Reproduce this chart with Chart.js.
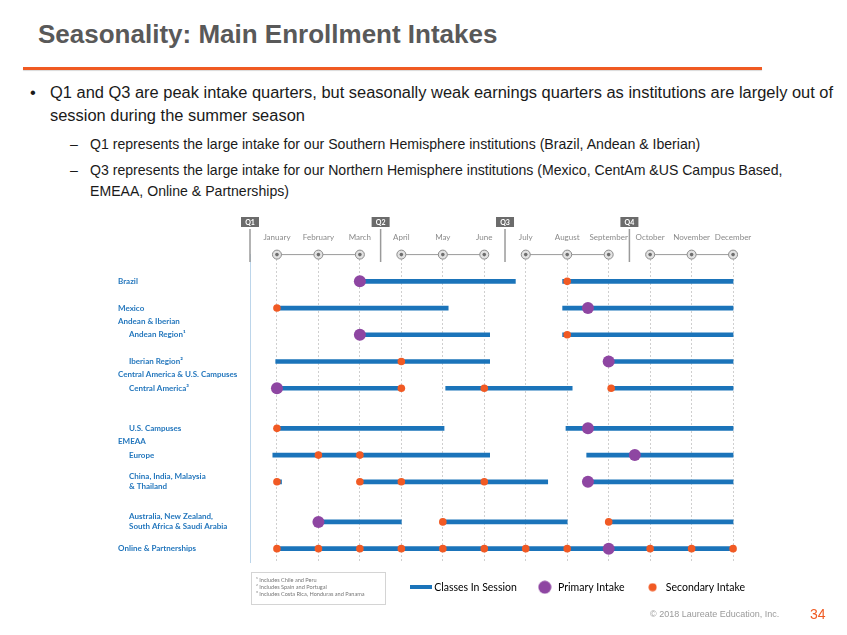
<!DOCTYPE html>
<html lang="en">
<head>
<meta charset="UTF-8">
<title>Seasonality: Main Enrollment Intakes</title>
<script src="https://cdn.jsdelivr.net/npm/chart.js@4"></script>
<style>
  body { margin: 0; width: 847px; height: 635px; background: #fff; position: relative; overflow: hidden; font-family: "Liberation Sans", Arial, sans-serif; }
  .title { position: absolute; left: 38px; top: 19px; font-size: 26px; font-weight: bold; color: #595959; white-space: nowrap; }
  .rule { position: absolute; left: 23px; top: 67px; width: 739px; height: 3px; background: #f05a22; box-shadow: 0 1px 1px rgba(0,0,0,0.15); }
  .b1 { position: absolute; left: 30px; top: 81px; font-size: 16.45px; line-height: 23px; color: #1a1a1a; }
  .b1 .dot { position: absolute; left: 0; top: 0; }
  .b1 .txt { position: absolute; left: 20px; top: 0; white-space: nowrap; }
  .b2 { position: absolute; left: 70px; font-size: 14.1px; line-height: 21px; color: #1a1a1a; }
  .b2 .dash { position: absolute; left: 0; top: 0; }
  .b2 .txt { position: absolute; left: 20px; top: 0; white-space: nowrap; }
  #chart { position: absolute; left: 0; top: 200px; }
  .notes { position: absolute; left: 251px; top: 572px; width: 135px; height: 33px; border: 1px solid #d4d4d4; font-family: Lato, sans-serif; font-size: 5.6px; line-height: 7px; color: #777; padding: 3px 0 0 4px; box-sizing: border-box; }
  .copy { position: absolute; left: 650px; top: 609px; font-size: 9px; color: #9a9a9a; }
  .page { position: absolute; left: 810px; top: 606px; font-size: 14px; color: #f05a22; }
</style>
</head>
<body>
<div class="title">Seasonality: Main Enrollment Intakes</div>
<div class="rule"></div>
<div class="b1"><span class="dot">•</span><span class="txt">Q1 and Q3 are peak intake quarters, but seasonally weak earnings quarters as institutions are largely out of<br>session during the summer season</span></div>
<div class="b2" style="top:134px"><span class="dash">–</span><span class="txt">Q1 represents the large intake for our Southern Hemisphere institutions (Brazil, Andean &amp; Iberian)</span></div>
<div class="b2" style="top:160px"><span class="dash">–</span><span class="txt">Q3 represents the large intake for our Northern Hemisphere institutions (Mexico, CentAm &amp;US Campus Based,<br>EMEAA, Online &amp; Partnerships)</span></div>

<canvas id="chart" width="847" height="435"></canvas>

<div class="notes">¹ Includes Chile and Peru<br>² Includes Spain and Portugal<br>³ Includes Costa Rica, Honduras and Panama</div>
<div class="copy">© 2018 Laureate Education, Inc.</div>
<div class="page">34</div>

<script>
// months on the x axis (0 = January ... 11 = December)
const months = ['January', 'February', 'March', 'April', 'May', 'June',
                'July', 'August', 'September', 'October', 'November', 'December'];
const quarters = ['Q1', 'Q2', 'Q3', 'Q4'];

// rows of the timeline; '' are spacer rows, ' ' is the month strip on top
const yCategories = [
  ' ', '',
  'Brazil', '',
  'Mexico',
  'Andean & Iberian',
  'Andean Region¹', '',
  'Iberian Region²',
  'Central America & U.S. Campuses',
  'Central America³', '', '',
  'U.S. Campuses',
  'EMEAA',
  'Europe', '',
  'China, India, Malaysia & Thailand', '', '',
  'Australia, New Zealand, South Africa & Saudi Arabia', '',
  'Online & Partnerships', ''
];
const indented = ['Andean Region¹', 'Iberian Region²', 'Central America³', 'U.S. Campuses',
                  'Europe', 'China, India, Malaysia & Thailand',
                  'Australia, New Zealand, South Africa & Saudi Arabia'];
const wrapped = {
  'China, India, Malaysia & Thailand': ['China, India, Malaysia', '& Thailand'],
  'Australia, New Zealand, South Africa & Saudi Arabia': ['Australia, New Zealand,', 'South Africa & Saudi Arabia']
};

// [row, start month, end month]
const classesInSession = [
  ['Brazil', 2, 5.75], ['Brazil', 6.89, 11],
  ['Mexico', 0, 4.13], ['Mexico', 6.89, 11],
  ['Andean Region¹', 2, 5.13], ['Andean Region¹', 6.89, 11],
  ['Iberian Region²', -0.03, 5.13], ['Iberian Region²', 8, 11],
  ['Central America³', 0, 3], ['Central America³', 4.07, 7.12], ['Central America³', 8.06, 11],
  ['U.S. Campuses', 0, 4.03], ['U.S. Campuses', 6.97, 11],
  ['Europe', -0.1, 5.13], ['Europe', 7.47, 11],
  ['China, India, Malaysia & Thailand', 0, 0.11], ['China, India, Malaysia & Thailand', 2, 6.53],
  ['China, India, Malaysia & Thailand', 7.5, 11],
  ['Australia, New Zealand, South Africa & Saudi Arabia', 1, 3],
  ['Australia, New Zealand, South Africa & Saudi Arabia', 4, 7],
  ['Australia, New Zealand, South Africa & Saudi Arabia', 8, 11],
  ['Online & Partnerships', 0, 11]
];

// [row, month]
const primaryIntake = [
  ['Brazil', 2], ['Mexico', 7.5], ['Andean Region¹', 2], ['Iberian Region²', 8],
  ['Central America³', 0], ['U.S. Campuses', 7.5], ['Europe', 8.63],
  ['China, India, Malaysia & Thailand', 7.5],
  ['Australia, New Zealand, South Africa & Saudi Arabia', 1],
  ['Online & Partnerships', 8]
];
const secondaryIntake = [
  ['Brazil', 7], ['Mexico', 0], ['Andean Region¹', 7], ['Iberian Region²', 3],
  ['Central America³', 3], ['Central America³', 5], ['Central America³', 8.06],
  ['U.S. Campuses', 0], ['Europe', 1], ['Europe', 2],
  ['China, India, Malaysia & Thailand', 0], ['China, India, Malaysia & Thailand', 2],
  ['China, India, Malaysia & Thailand', 3], ['China, India, Malaysia & Thailand', 5],
  ['Australia, New Zealand, South Africa & Saudi Arabia', 4],
  ['Australia, New Zealand, South Africa & Saudi Arabia', 8],
  ['Online & Partnerships', 0], ['Online & Partnerships', 1], ['Online & Partnerships', 2],
  ['Online & Partnerships', 3], ['Online & Partnerships', 4], ['Online & Partnerships', 5],
  ['Online & Partnerships', 6], ['Online & Partnerships', 7], ['Online & Partnerships', 9],
  ['Online & Partnerships', 10], ['Online & Partnerships', 11]
];

const BLUE = '#1b74ba';
const PURPLE = '#8e46a2';
const ORANGE = '#f15a24';
const LABEL_BLUE = '#2477bd';

// month strip: months joined within each quarter
const monthStrip = [];
months.forEach((m, i) => {
  monthStrip.push({ x: i, y: ' ' });
  if (i % 3 === 2 && i < 11) monthStrip.push({ x: i + 0.5, y: null });
});

function icon(w, h, draw) {
  const c = document.createElement('canvas');
  c.width = w; c.height = h;
  draw(c.getContext('2d'));
  return c;
}
const lineIcon = icon(22, 4, g => { g.fillStyle = BLUE; g.fillRect(0, 0, 22, 4); });
const purpleIcon = icon(14, 14, g => { g.fillStyle = PURPLE; g.beginPath(); g.arc(7, 7, 6.5, 0, Math.PI * 2); g.fill(); });
const orangeIcon = icon(9, 9, g => { g.fillStyle = ORANGE; g.beginPath(); g.arc(4.5, 4.5, 4, 0, Math.PI * 2); g.fill(); });

// quarter tags and separators above the plot
const quarterPlugin = {
  id: 'quarters',
  afterDraw(chart) {
    const { ctx, chartArea, scales: { x } } = chart;
    ctx.save();
    quarters.forEach((q, i) => {
      const px = i === 0 ? chartArea.left : x.getPixelForValue(i * 3 - 0.5);
      ctx.strokeStyle = '#9a9a9a';
      ctx.lineWidth = 1.5;
      ctx.beginPath();
      ctx.moveTo(px, 29);
      ctx.lineTo(px, 62);
      ctx.stroke();
      ctx.fillStyle = '#6b6b6b';
      ctx.fillRect(px - 9, 17, 18, 10);
      ctx.fillStyle = '#fff';
      ctx.font = 'bold 7px Lato';
      ctx.textAlign = 'center';
      ctx.textBaseline = 'middle';
      ctx.fillText(q, px, 22.5);
    });
    ctx.restore();
  }
};

new Chart(document.getElementById('chart'), {
  type: 'bar',
  data: {
    labels: yCategories,
    datasets: [
      {
        type: 'scatter',
        label: 'Primary Intake',
        data: primaryIntake.map(([r, m]) => ({ x: m, y: r })),
        backgroundColor: PURPLE,
        pointRadius: 6,
        pointBorderWidth: 0,
        order: 0
      },
      {
        type: 'scatter',
        label: 'Secondary Intake',
        data: secondaryIntake.map(([r, m]) => ({ x: m, y: r })),
        backgroundColor: ORANGE,
        pointRadius: 3.8,
        pointBorderWidth: 0,
        order: 1
      },
      {
        label: 'Classes In Session',
        data: classesInSession.map(([r, a, b]) => ({ x: [a, b], y: r })),
        backgroundColor: BLUE,
        barThickness: 4,
        order: 2
      },
      {
        type: 'scatter',
        label: 'month dots',
        data: monthStrip,
        pointRadius: 1.8,
        backgroundColor: '#6e6e6e',
        pointBorderWidth: 0,
        clip: false,
        order: 3
      },
      {
        type: 'line',
        label: 'month strip',
        data: monthStrip,
        borderColor: '#9a9a9a',
        borderWidth: 1,
        pointRadius: 4.5,
        pointBackgroundColor: '#e2e2e2',
        pointBorderColor: '#8a8a8a',
        pointBorderWidth: 1,
        spanGaps: false,
        clip: false,
        order: 4
      }
    ]
  },
  options: {
    indexAxis: 'y',
    responsive: false,
    animation: false,
    events: [],
    layout: { padding: { left: 118, right: 82, top: 21, bottom: 32.5 } },
    scales: {
      x: {
        type: 'linear',
        position: 'top',
        min: -0.65,
        max: 11.77,
        afterBuildTicks: axis => { axis.ticks = months.map((m, i) => ({ value: i })); },
        ticks: {
          callback: v => months[v],
          color: '#8a8a8a',
          font: { family: 'Lato', size: 8 },
          padding: 12,
          maxRotation: 0,
          autoSkip: false
        },
        grid: { color: '#cfcfcf', lineWidth: 1, drawTicks: false },
        border: { display: false, dash: [2, 2] }
      },
      y: {
        type: 'category',
        offset: false,
        afterFit: axis => { axis.width = 132; },
        ticks: {
          autoSkip: false,
          crossAlign: 'far',
          padding: 0,
          color: LABEL_BLUE,
          font: { family: 'Lato', size: 8, weight: 'bold', lineHeight: 1.25 },
          callback: function (v) {
            const name = this.getLabelForValue(v);
            const lines = wrapped[name] || [name.trim()];
            return indented.includes(name) ? lines.map(l => '\u2003\u2002\u2009' + l) : lines;
          }
        },
        grid: { display: false },
        border: { display: true, color: '#bcd5ea', width: 1 }
      }
    },
    plugins: {
      tooltip: { enabled: false },
      legend: {
        position: 'bottom',
        align: 'end',
        labels: {
          usePointStyle: true,
          pointStyleWidth: 16,
          padding: 20,
          color: '#6a6a6a',
          font: { family: 'Lato', size: 10.5 },
          generateLabels: () => [
            { text: 'Classes In Session', pointStyle: lineIcon, fillStyle: BLUE, strokeStyle: BLUE, lineWidth: 0, datasetIndex: 2 },
            { text: 'Primary Intake', pointStyle: purpleIcon, fillStyle: PURPLE, strokeStyle: PURPLE, lineWidth: 0, datasetIndex: 0 },
            { text: 'Secondary Intake', pointStyle: orangeIcon, fillStyle: ORANGE, strokeStyle: ORANGE, lineWidth: 0, datasetIndex: 1 }
          ]
        }
      }
    }
  },
  plugins: [quarterPlugin]
});
</script>
</body>
</html>
